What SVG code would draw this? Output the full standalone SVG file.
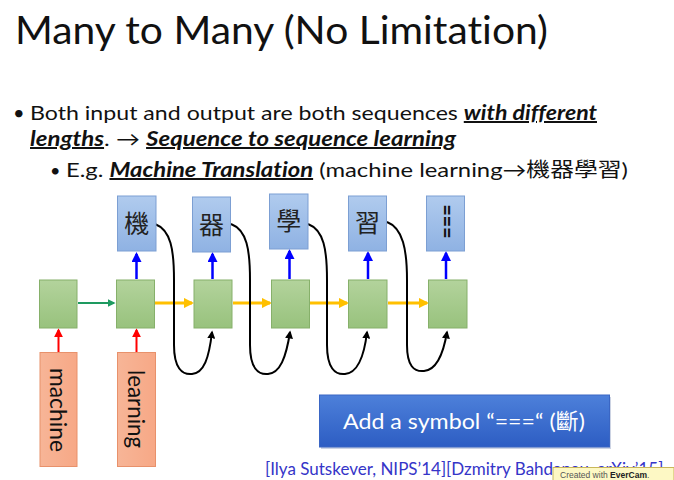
<svg xmlns="http://www.w3.org/2000/svg" width="674" height="480" viewBox="0 0 674 480">
<defs>
<linearGradient id="gGreen" x1="0" y1="0" x2="0" y2="1"><stop offset="0" stop-color="#B3D39C"/><stop offset="1" stop-color="#98C27D"/></linearGradient>
<linearGradient id="gBlue" x1="0" y1="0" x2="0" y2="1"><stop offset="0" stop-color="#B0CBEE"/><stop offset="1" stop-color="#8FB2E3"/></linearGradient>
<linearGradient id="gOrange" x1="0" y1="0" x2="1" y2="0"><stop offset="0" stop-color="#F7B597"/><stop offset="1" stop-color="#F7A886"/></linearGradient>
<linearGradient id="gBtn" x1="0" y1="0" x2="0" y2="1"><stop offset="0" stop-color="#4D80DA"/><stop offset="1" stop-color="#2D5DC3"/></linearGradient>
<marker id="aBlue" viewBox="0 0 10 10" refX="8" refY="5" markerWidth="4" markerHeight="4" orient="auto"><path d="M0,0 L10,5 L0,10 z" fill="#0000FF"/></marker>
<marker id="aRed" viewBox="0 0 10 10" refX="8" refY="5" markerWidth="4.5" markerHeight="4.5" orient="auto"><path d="M0,0 L10,5 L0,10 z" fill="#FF0000"/></marker>
<marker id="aGreen" viewBox="0 0 10 10" refX="8" refY="5" markerWidth="4" markerHeight="4" orient="auto"><path d="M0,0 L10,5 L0,10 z" fill="#1E9A60"/></marker>
<marker id="aOrange" viewBox="0 0 10 10" refX="8" refY="5" markerWidth="3.5" markerHeight="3.5" orient="auto"><path d="M0,0 L10,5 L0,10 z" fill="#FFC000"/></marker>
<marker id="aBlack" viewBox="0 0 10 10" refX="8" refY="5" markerWidth="4" markerHeight="4" orient="auto"><path d="M0,0 L10,5 L0,10 z" fill="#000"/></marker>
</defs>
<style>
.t{font-family:Lato,"Liberation Sans","Noto Sans CJK TC",sans-serif;fill:#111;font-variant-ligatures:none}
.cjk{font-family:"Noto Sans CJK TC","Noto Sans CJK SC",sans-serif}
.bi{font-weight:bold;font-style:italic;text-decoration:underline}
.green{fill:url(#gGreen);stroke:#86B06A;stroke-width:1}
.blue{fill:url(#gBlue);stroke:#7C9FD3;stroke-width:1}
.orange{fill:url(#gOrange);stroke:#E8916B;stroke-width:1}
.lbl{font-family:"Noto Sans CJK TC","Noto Sans CJK SC",sans-serif;font-size:25px;fill:#222;text-anchor:middle}
.ab{stroke:#0000FF;stroke-width:2.5;fill:none;marker-end:url(#aBlue)}
.ar{stroke:#FF0000;stroke-width:2;fill:none;marker-end:url(#aRed)}
.ao{stroke:#FFC000;stroke-width:3;fill:none;marker-end:url(#aOrange)}
.ak{stroke:#000;stroke-width:2;fill:none;marker-end:url(#aBlack)}
</style>

<g id="title"><text class="t" x="15" y="44" font-size="39" textLength="533" lengthAdjust="spacingAndGlyphs">Many to Many (No Limitation)</text></g>

<g id="bullets">
<text class="t" x="13" y="120" font-size="20">•</text>
<text class="t" x="30" y="120" font-size="20" textLength="567" lengthAdjust="spacingAndGlyphs">Both input and output are both sequences <tspan class="bi">with different</tspan></text>
<text class="t" x="30" y="146" font-size="20" textLength="426" lengthAdjust="spacingAndGlyphs"><tspan class="bi">lengths</tspan>. → <tspan class="bi">Sequence to sequence learning</tspan></text>
<text class="t" x="50" y="177" font-size="18">•</text>
<text class="t" x="66" y="177" font-size="20" textLength="562" lengthAdjust="spacingAndGlyphs">E.g. <tspan class="bi">Machine Translation</tspan> (machine learning→<tspan class="cjk">機器學習</tspan>)</text>
</g>

<g id="connectors">
<line class="ar" x1="58.5" y1="352" x2="58.5" y2="330"/>
<line class="ar" x1="136.5" y1="352" x2="136.5" y2="330"/>
<line x1="78" y1="303" x2="114" y2="303" stroke="#1E9A60" stroke-width="2" marker-end="url(#aGreen)"/>
<line class="ao" x1="155" y1="303" x2="192" y2="303"/>
<line class="ao" x1="233" y1="303" x2="270" y2="303"/>
<line class="ao" x1="310" y1="303" x2="347" y2="303"/>
<line class="ao" x1="388" y1="303" x2="427" y2="303"/>
<line class="ab" x1="136.5" y1="279" x2="136.5" y2="254"/>
<line class="ab" x1="212.5" y1="279" x2="212.5" y2="254"/>
<line class="ab" x1="289.5" y1="279" x2="289.5" y2="251"/>
<line class="ab" x1="368" y1="279" x2="368" y2="253"/>
<line class="ab" x1="446" y1="279" x2="446" y2="253"/>
<path class="ak" d="M155,224 C171,230 174,250 174,280 L174,345 C174,368 182,375 192,374 C204,373 209,358 212,332"/>
<path class="ak" d="M231,224 C247,230 250,250 250,280 L250,345 C250,368 258,375 268,374 C280,373 286,358 290,332"/>
<path class="ak" d="M308,224 C324,230 327,250 327,280 L327,345 C327,368 335,375 345,374 C357,373 364,358 367,332"/>
<path class="ak" d="M387,222 C403,228 407,250 407,280 L407,345 C407,366 414,372 424,371 C436,370 443,356 447,332"/>
</g>

<g id="h1"><rect class="green" x="39.5" y="280" width="37.5" height="48"/></g>
<g id="h2"><rect class="green" x="116.5" y="280" width="38" height="48"/></g>
<g id="h3"><rect class="green" x="194" y="280" width="38" height="48"/></g>
<g id="h4"><rect class="green" x="271.5" y="280" width="38" height="48"/></g>
<g id="h5"><rect class="green" x="348.5" y="280" width="38.5" height="48"/></g>
<g id="h6"><rect class="green" x="428.5" y="280" width="38.5" height="48"/></g>

<g id="y1"><rect class="blue" x="117.5" y="196" width="38.5" height="55"/><text class="lbl" x="136.7" y="233">機</text></g>
<g id="y2"><rect class="blue" x="192.5" y="197" width="38" height="55"/><text class="lbl" x="211.5" y="234">器</text></g>
<g id="y3"><rect class="blue" x="269.5" y="194" width="38.5" height="55"/><text class="lbl" x="288.7" y="230">學</text></g>
<g id="y4"><rect class="blue" x="348.5" y="196" width="38" height="55"/><text class="lbl" x="367.5" y="232">習</text></g>
<g id="y5"><rect class="blue" x="426.5" y="196" width="38" height="55"/><text class="t" x="0" y="0" font-size="22" font-weight="bold" text-anchor="middle" textLength="34" lengthAdjust="spacingAndGlyphs" transform="translate(439,221.5) rotate(90)">===</text></g>

<g id="x1"><rect class="orange" x="40" y="352.5" width="37" height="114"/><text class="t" x="0" y="0" font-size="23" textLength="84" lengthAdjust="spacingAndGlyphs" transform="translate(50,368) rotate(90)">machine</text></g>
<g id="x2"><rect class="orange" x="117.5" y="352.5" width="38" height="114"/><text class="t" x="0" y="0" font-size="23" textLength="78" lengthAdjust="spacingAndGlyphs" transform="translate(128,370) rotate(90)">learning</text></g>

<g id="button">
<rect x="321" y="397" width="290" height="52" fill="#9AA8C8" opacity="0.5"/>
<rect x="319.5" y="395" width="290" height="52" fill="url(#gBtn)" stroke="#3A66C4" stroke-width="1"/>
<text class="t" x="464" y="429" font-size="22" style="fill:#fff" text-anchor="middle" textLength="242" lengthAdjust="spacingAndGlyphs">Add a symbol “===“ (<tspan class="cjk">斷</tspan>)</text>
</g>

<g id="citation"><text class="t" x="265" y="475" font-size="17" style="fill:#3535C8">[Ilya Sutskever, NIPS’14][Dzmitry Bahdanau, arXiv’15]</text></g>

<g id="badge"><rect x="553" y="467.5" width="121" height="13" fill="#FDF8C4" stroke="#C9B75A" stroke-width="1"/><text x="560" y="477.5" font-family="'Liberation Sans',sans-serif" font-size="8.5" fill="#555">Created with <tspan font-weight="bold" fill="#222">EverCam</tspan>.</text></g>
</svg>
